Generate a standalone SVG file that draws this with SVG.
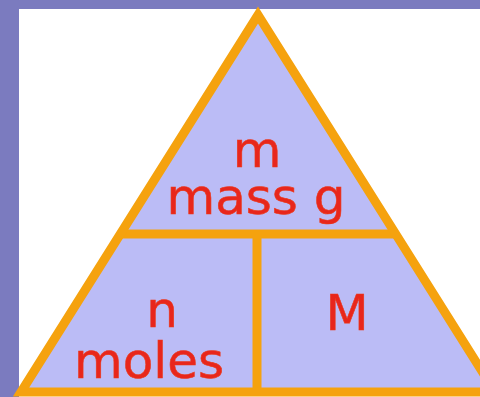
<svg xmlns="http://www.w3.org/2000/svg" width="480" height="397" viewBox="0 0 480 397">
  <style>
    .edge { fill: none; stroke: #f5a20e; stroke-width: 9; stroke-linejoin: miter; }
    .lbl { font-family: "DejaVu Sans", Verdana, sans-serif; font-size: 50px; fill: #e8261c; stroke: #ec3a1a; stroke-width: 0.6; text-anchor: middle; }
  </style>
  <rect x="0" y="0" width="480" height="397" fill="#7b7bbf"/>
  <rect x="19" y="9" width="461" height="388" fill="#ffffff"/>
  <g id="triangle">
    <polygon points="258,15 21,392 495,392" fill="#bbbcf6"/>
  </g>
  <g id="dividers">
    <line class="edge" x1="118" y1="234" x2="398" y2="234"/>
    <line class="edge" x1="257" y1="234" x2="257" y2="392"/>
  </g>
  <polygon class="edge" points="258,15 21,392 495,392"/>
  <g id="mass">
    <text class="lbl" x="257" y="167">m</text>
    <text class="lbl" x="256" y="214">mass g</text>
  </g>
  <g id="moles">
    <text class="lbl" x="162" y="327">n</text>
    <text class="lbl" x="149" y="378">moles</text>
  </g>
  <g id="molar-mass">
    <text class="lbl" x="347" y="330">M</text>
  </g>
</svg>
